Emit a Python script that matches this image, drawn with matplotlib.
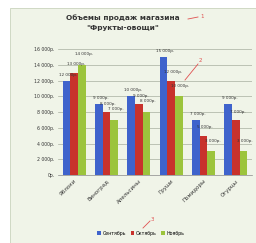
import matplotlib
matplotlib.use("Agg")
import matplotlib.pyplot as plt
import numpy as np
from matplotlib.patches import Rectangle

categories = ["Яблоки", "Виноград", "Апельсины", "Груши", "Помидоры", "Огурцы"]
months = ["Сентябрь", "Октябрь", "Ноябрь"]
sep = [12000, 9000, 10000, 15000, 7000, 9000]
octv = [13000, 8000, 9000, 12000, 5000, 7000]
nov = [14000, 7000, 8000, 10000, 3000, 3000]
yticks = [0, 2000, 4000, 6000, 8000, 10000, 12000, 14000, 16000]

colors = ["#3f63cc", "#c8322c", "#9cc43c"]
bg = "#f0f4e8"

fig = plt.figure(figsize=(2.56, 2.43), dpi=100)
fig.patch.set_facecolor("white")
fig.patches.append(Rectangle((10/256, 0), 1 - 10/256, 1 - 8/243, transform=fig.transFigure,
                             facecolor=bg, edgecolor="#c9d3bd", linewidth=0.6, zorder=-1))

ax = fig.add_axes([58/256, 1 - 175/243, 194/256, 126/243])
ax.set_facecolor(bg)

def fmt(v):
    if v == 0:
        return "0р."
    return f"{v//1000} 000р."

x = np.arange(len(categories))
w = 0.24
series = [sep, octv, nov]
for i, (vals, c) in enumerate(zip(series, colors)):
    ax.bar(x + (i - 1) * w, vals, width=w, color=c, edgecolor="none", zorder=3,
           label=months[i])
    for xi, v in zip(x + (i - 1) * w, vals):
        ax.text(xi + 0.05, v + 500 + i * 300, fmt(v), fontsize=3, ha="center", va="bottom",
                color="#333333", zorder=4)

ax.set_ylim(0, 16000)
ax.set_xlim(-0.5, len(categories) - 0.5)
ax.set_yticks(yticks)
ax.set_yticklabels([fmt(v) for v in yticks], fontsize=3.3, color="#333333")
ax.set_xticks(x)
ax.set_xticklabels(categories, rotation=45, ha="right", rotation_mode="anchor",
                   fontsize=4, color="#333333")
ax.tick_params(axis="both", length=0, pad=2.5)
ax.grid(axis="y", color="#a8ae9f", linewidth=0.5, zorder=0)
for s in ["top", "right", "left"]:
    ax.spines[s].set_visible(False)
ax.spines["bottom"].set_color("#888888")
ax.spines["bottom"].set_linewidth(0.5)

fig.text(0.48, 1 - 18/243, "Объемы продаж магазина", fontsize=5.3, fontweight="bold",
         ha="center", va="center", color="#333333")
fig.text(0.48, 1 - 28/243, "\"Фрукты-овощи\"", fontsize=5.3, fontweight="bold",
         ha="center", va="center", color="#333333")

# red annotation marks
fig.lines.append(plt.Line2D([188/256, 198/256], [1 - 19/243, 1 - 17/243],
                            transform=fig.transFigure, color="#e05050", linewidth=0.6))
fig.text(200/256, 1 - 17/243, "1", fontsize=4, color="#e05050", ha="left", va="center")
fig.lines.append(plt.Line2D([185/256, 198/256], [1 - 80/243, 1 - 64/243],
                            transform=fig.transFigure, color="#e05050", linewidth=0.6))
fig.text(199/256, 1 - 60/243, "2", fontsize=4, color="#e05050", ha="left", va="center")
fig.lines.append(plt.Line2D([143/256, 150/256], [1 - 228/243, 1 - 221/243],
                            transform=fig.transFigure, color="#e05050", linewidth=0.6))
fig.text(151/256, 1 - 219/243, "3", fontsize=4, color="#e05050", ha="left", va="center")

fig.legend(loc="center", bbox_to_anchor=(0.55, 1 - 233/243), ncol=3, fontsize=3.4,
           frameon=False, handlelength=0.8, handleheight=0.8, columnspacing=1.0,
           handletextpad=0.3)

fig.savefig("out.png", dpi=100, facecolor=fig.get_facecolor())
